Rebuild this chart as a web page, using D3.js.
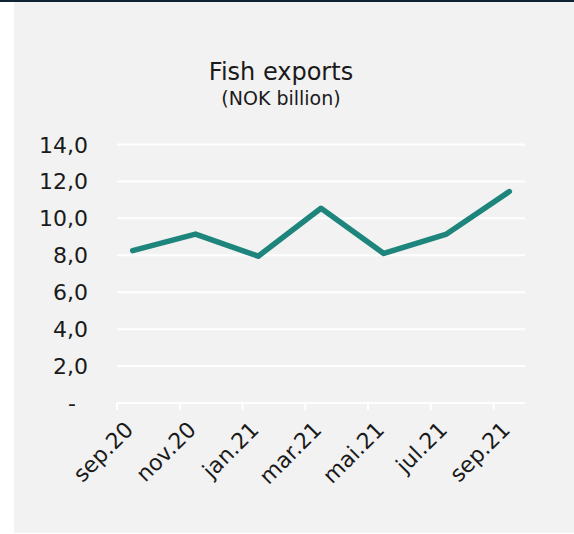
<!DOCTYPE html>
<html>
<head>
<meta charset="utf-8">
<script src="https://cdn.jsdelivr.net/npm/d3@7"></script>
<style>
  html, body { margin: 0; padding: 0; background: #fff; }
  svg { display: block; font-family: "DejaVu Sans", sans-serif; }
</style>
</head>
<body>
<svg id="chart" width="574" height="534"></svg>
<script>
// monthly axis, values read at the labelled months
const months = ['sep.20','okt.20','nov.20','des.20','jan.21','feb.21','mar.21',
                'apr.21','mai.21','jun.21','jul.21','aug.21','sep.21']
const tickLabels = ['sep.20','nov.20','jan.21','mar.21','mai.21','jul.21','sep.21']
const values = [8.25, 9.15, 7.95, 10.55, 8.1, 9.15, 11.45]
const yTicks = [0, 2, 4, 6, 8, 10, 12, 14]

const svg = d3.select('#chart')

// background panel + top rule
svg.append('rect').attr('x', 14).attr('y', 0).attr('width', 560).attr('height', 533).attr('fill', '#f2f2f2')
svg.append('rect').attr('x', 0).attr('y', 0).attr('width', 574).attr('height', 2).attr('fill', '#0f2331')

const x = d3.scaleBand().domain(months).range([117, 525])
const y = d3.scaleLinear().domain([0, 14]).range([403, 144.5])

// gridlines
svg.append('g').selectAll('line').data(yTicks.filter(d => d > 0)).enter().append('line')
  .attr('x1', 117).attr('x2', 525)
  .attr('y1', d => y(d)).attr('y2', d => y(d))
  .attr('stroke', '#fff').attr('stroke-width', 2)

// y labels
const fmt = d => d === 0 ? '-' : d.toFixed(1).replace('.', ',')
svg.append('g').selectAll('text').data(yTicks).enter().append('text')
  .attr('x', d => d === 0 ? 76 : 88)
  .attr('y', d => y(d) + 8)
  .attr('text-anchor', 'end')
  .attr('font-size', 22)
  .attr('fill', '#1a1a1a')
  .text(fmt)

// x axis
const xAxis = svg.append('g').attr('transform', `translate(0,${y(0)})`)
xAxis.append('line').attr('x1', 117).attr('x2', 525).attr('stroke', '#fff').attr('stroke-width', 2)
xAxis.selectAll('line.tick').data(tickLabels).enter().append('line').attr('class', 'tick')
  .attr('x1', d => x(d)).attr('x2', d => x(d))
  .attr('y1', 0).attr('y2', 7)
  .attr('stroke', '#fff').attr('stroke-width', 2)
xAxis.selectAll('text').data(tickLabels).enter().append('text')
  .attr('transform', d => `translate(${x(d) + x.bandwidth() / 2 + 2},${28}) rotate(-45)`)
  .attr('text-anchor', 'end')
  .attr('font-size', 22)
  .attr('fill', '#1a1a1a')
  .text(d => d)

// line
const line = d3.line()
  .x((d, i) => x(tickLabels[i]) + x.bandwidth() / 2)
  .y(d => y(d))
svg.append('path').datum(values)
  .attr('d', line)
  .attr('fill', 'none')
  .attr('stroke', '#1e857c')
  .attr('stroke-width', 5.5)
  .attr('stroke-linejoin', 'round')
  .attr('stroke-linecap', 'round')

// titles
svg.append('text').attr('x', 281).attr('y', 80).attr('text-anchor', 'middle')
  .attr('font-size', 24).attr('fill', '#1a1a1a').text('Fish exports')
svg.append('text').attr('x', 281).attr('y', 105).attr('text-anchor', 'middle')
  .attr('font-size', 19).attr('fill', '#1a1a1a').text('(NOK billion)')
</script>
</body>
</html>
